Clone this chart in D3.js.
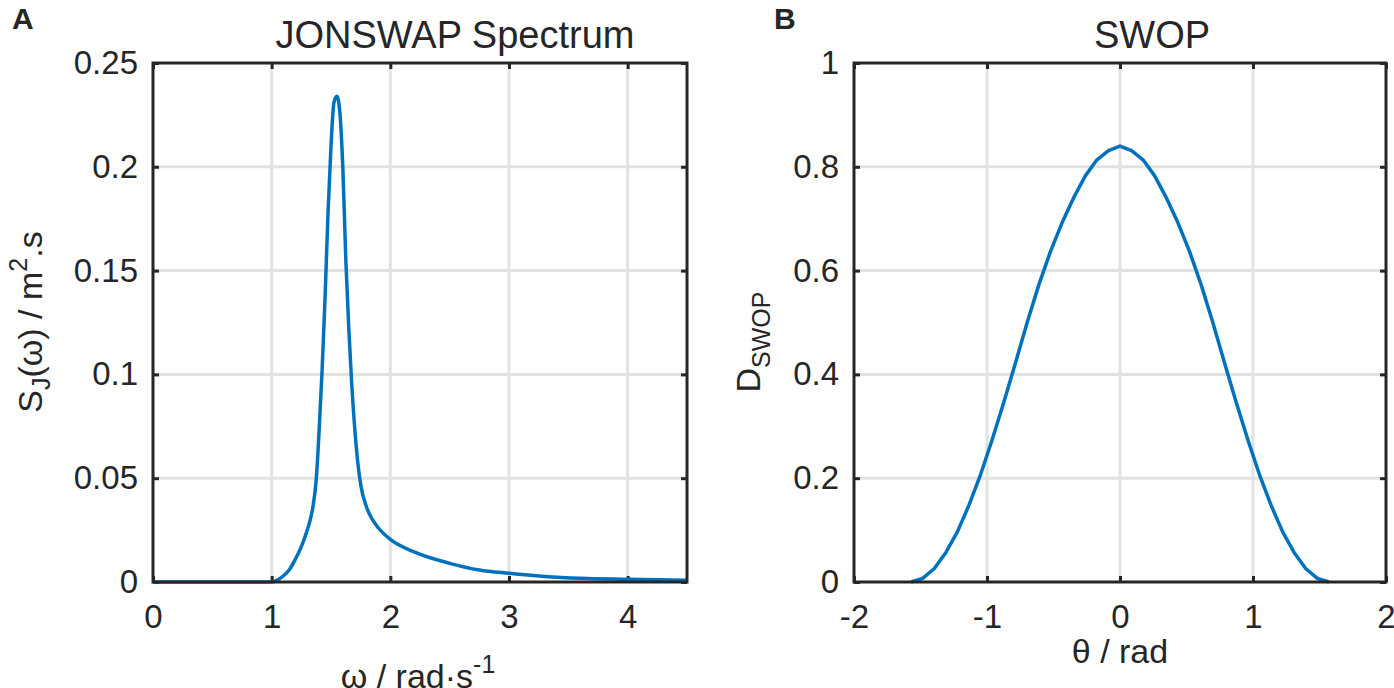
<!DOCTYPE html>
<html>
<head>
<meta charset="utf-8">
<script src="https://cdn.jsdelivr.net/npm/d3@7"></script>
<style>
  body { margin: 0; background: #fff; }
  text { font-family: "Liberation Sans", Arial, sans-serif; fill: #262626; }
</style>
</head>
<body>
<script>
// SVG size
var svgWidth = 1394;
var svgHeight = 688;

// Panel A: JONSWAP spectrum
var omega = [0, 0.5, 0.9, 1.0, 1.05, 1.1, 1.15, 1.2, 1.25, 1.3, 1.325, 1.35, 1.375, 1.4, 1.425, 1.45, 1.475,
  1.5, 1.525, 1.55, 1.575, 1.6, 1.625, 1.65, 1.675, 1.7, 1.725, 1.75, 1.8, 1.85, 1.9, 2.0, 2.2, 2.5,
  2.75, 3.0, 3.3, 3.6, 4.0, 4.5];
var spectrum = [0, 0, 0, 0, 0.001, 0.003, 0.006, 0.011, 0.017, 0.025, 0.030, 0.037, 0.049, 0.073, 0.102, 0.137, 0.178,
  0.210, 0.231, 0.234, 0.226, 0.199, 0.155, 0.122, 0.095, 0.074, 0.058, 0.047, 0.036, 0.030, 0.026, 0.0205, 0.0145, 0.009,
  0.0058, 0.0042, 0.0027, 0.0018, 0.0013, 0.0008];

// Panel B: SWOP spreading function
var theta = [-1.571, -1.484, -1.396, -1.309, -1.222, -1.134, -1.047, -0.960, -0.873, -0.785,
  -0.698, -0.611, -0.524, -0.436, -0.349, -0.262, -0.175, -0.087, 0,
  0.087, 0.175, 0.262, 0.349, 0.436, 0.524, 0.611, 0.698, 0.785, 0.873,
  0.960, 1.047, 1.134, 1.222, 1.309, 1.396, 1.484, 1.571];
var dswop = [0, 0.007, 0.026, 0.057, 0.097, 0.149, 0.208, 0.275, 0.347, 0.423,
  0.500, 0.572, 0.636, 0.692, 0.740, 0.782, 0.813, 0.831, 0.840,
  0.831, 0.813, 0.782, 0.740, 0.692, 0.636, 0.572, 0.500, 0.423, 0.347,
  0.275, 0.208, 0.149, 0.097, 0.057, 0.026, 0.007, 0];

// ticks
var omegaTicks = [0, 1, 2, 3, 4];
var omegaTickLabels = ["0", "1", "2", "3", "4"];
var sTicks = [0, 0.05, 0.1, 0.15, 0.2, 0.25];
var sTickLabels = ["0", "0.05", "0.1", "0.15", "0.2", "0.25"];
var thetaTicks = [-2, -1, 0, 1, 2];
var thetaTickLabels = ["-2", "-1", "0", "1", "2"];
var dTicks = [0, 0.2, 0.4, 0.6, 0.8, 1];
var dTickLabels = ["0", "0.2", "0.4", "0.6", "0.8", "1"];

var plotTop = 63, plotBottom = 582;
var axisColor = "#262626";
var lineColor = "#0072BD";

var svg = d3.select("body")
  .append("svg")
  .attr("width", svgWidth)
  .attr("height", svgHeight);

svg.append("rect").attr("width", svgWidth).attr("height", svgHeight).attr("fill", "#fff");

function drawPanel(p) {
  var x = d3.scaleLinear().domain(p.xDomain).range([p.left, p.right]);
  var y = d3.scaleLinear().domain(p.yDomain).range([plotBottom, plotTop]);
  var g = svg.append("g");

  // grid
  g.selectAll(".vgrid")
    .data(p.xTicks.filter(function(d) { return d > p.xDomain[0] && d < p.xDomain[1]; }))
    .enter().append("line")
    .attr("x1", d => x(d)).attr("x2", d => x(d))
    .attr("y1", plotTop).attr("y2", plotBottom)
    .attr("stroke", "#e2e2e2").attr("stroke-width", 3);
  g.selectAll(".hgrid")
    .data(p.yTicks.filter(function(d) { return d > p.yDomain[0] && d < p.yDomain[1]; }))
    .enter().append("line")
    .attr("x1", p.left).attr("x2", p.right)
    .attr("y1", d => y(d)).attr("y2", d => y(d))
    .attr("stroke", "#e2e2e2").attr("stroke-width", 3);

  // axes (ticks pointing inward)
  var bottomAxis = d3.axisBottom(x).tickValues(p.xTicks).tickFormat((d, i) => p.xLabels[i])
    .tickSizeInner(-6).tickSizeOuter(0).tickPadding(23);
  var topAxis = d3.axisTop(x).tickValues(p.xTicks).tickFormat("")
    .tickSizeInner(-6).tickSizeOuter(0);
  var leftAxis = d3.axisLeft(y).tickValues(p.yTicks).tickFormat((d, i) => p.yLabels[i])
    .tickSizeInner(-6).tickSizeOuter(0).tickPadding(15);
  var rightAxis = d3.axisRight(y).tickValues(p.yTicks).tickFormat("")
    .tickSizeInner(-6).tickSizeOuter(0);

  var axes = [
    g.append("g").attr("transform", `translate(0, ${plotBottom})`).call(bottomAxis),
    g.append("g").attr("transform", `translate(0, ${plotTop})`).call(topAxis),
    g.append("g").attr("transform", `translate(${p.left}, 0)`).call(leftAxis),
    g.append("g").attr("transform", `translate(${p.right}, 0)`).call(rightAxis)
  ];
  axes.forEach(function(a) {
    a.select(".domain").remove();
    a.selectAll("line").attr("stroke", axisColor).attr("stroke-width", 3);
    a.selectAll("text").attr("font-size", 33).attr("fill", axisColor)
      .style("font-family", "'Liberation Sans', Arial, sans-serif");
  });

  // data line
  var line = d3.line()
    .x(d => x(d[0]))
    .y(d => y(d[1]))
    .curve(p.curve);
  g.append("path")
    .datum(p.xs.map((v, i) => [v, p.ys[i]]))
    .attr("d", line)
    .attr("fill", "none")
    .attr("stroke", lineColor)
    .attr("stroke-width", 3.5)
    .attr("stroke-linejoin", "round");

  // box
  g.append("rect")
    .attr("x", p.left).attr("y", plotTop)
    .attr("width", p.right - p.left).attr("height", plotBottom - plotTop)
    .attr("fill", "none").attr("stroke", axisColor).attr("stroke-width", 3);

  // title + panel letter
  g.append("text").attr("x", p.titleX).attr("y", 48)
    .attr("text-anchor", "middle").attr("font-size", 38).text(p.title);
  g.append("text").attr("x", p.letterX).attr("y", 29)
    .attr("font-size", 30).attr("font-weight", "bold").attr("fill", "#000").text(p.letter);

  return g;
}

var gA = drawPanel({
  left: 153, right: 687,
  xDomain: [0, 4.5], yDomain: [0, 0.25],
  xTicks: omegaTicks, xLabels: omegaTickLabels, yTicks: sTicks, yLabels: sTickLabels,
  xs: omega, ys: spectrum, curve: d3.curveMonotoneX,
  title: "JONSWAP Spectrum", titleX: 455, letter: "A", letterX: 12
});

var gB = drawPanel({
  left: 854, right: 1386,
  xDomain: [-2, 2], yDomain: [0, 1],
  xTicks: thetaTicks, xLabels: thetaTickLabels, yTicks: dTicks, yLabels: dTickLabels,
  xs: theta, ys: dswop, curve: d3.curveLinear,
  title: "SWOP", titleX: 1152, letter: "B", letterX: 774
});

// axis labels
var xlabA = gA.append("text").attr("x", 418).attr("y", 688)
  .attr("text-anchor", "middle").attr("font-size", 34);
xlabA.append("tspan").text("ω / rad·s");
xlabA.append("tspan").attr("dy", -15).attr("font-size", 25).text("-1");

gB.append("text").attr("x", 1120).attr("y", 663)
  .attr("text-anchor", "middle").attr("font-size", 34).text("θ / rad");

var ylabA = gA.append("text")
  .attr("transform", "translate(42, 322) rotate(-90)")
  .attr("text-anchor", "middle").attr("font-size", 34);
ylabA.append("tspan").text("S");
ylabA.append("tspan").attr("dy", 8).attr("font-size", 25).text("J");
ylabA.append("tspan").attr("dy", -8).text("(ω) / m");
ylabA.append("tspan").attr("dy", -15).attr("font-size", 25).text("2");
ylabA.append("tspan").attr("dy", 15).text(".s");

var ylabB = gB.append("text")
  .attr("transform", "translate(760, 342) rotate(-90)")
  .attr("text-anchor", "middle").attr("font-size", 34);
ylabB.append("tspan").text("D");
ylabB.append("tspan").attr("dy", 10).attr("font-size", 25).text("SWOP");
</script>
</body>
</html>
